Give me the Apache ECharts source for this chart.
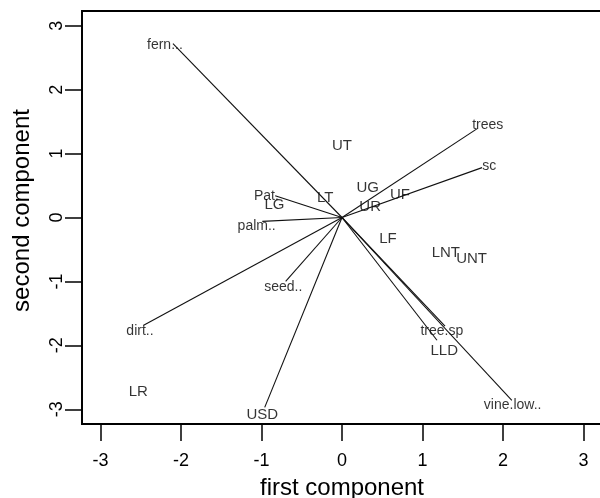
<!DOCTYPE html>
<html>
<head>
<meta charset="utf-8">
<script src="https://cdn.jsdelivr.net/npm/echarts@6/dist/echarts.min.js"></script>
<style>html,body{margin:0;padding:0;background:#fff}#c{width:600px;height:498px}</style>
</head>
<body>
<div id="c"></div>
<script>
// Axis ticks
var xTicks = [-3, -2, -1, 0, 1, 2, 3];
var yTicks = [-3, -2, -1, 0, 1, 2, 3];

// Variable arrows (tip coordinates) and their labels
var varNames  = ["fern...", "trees", "sc", "Pat.", "palm..", "seed..", "dirt..", "", "tree.sp", "", "vine.low.."];
var varTipX   = [-2.10, 1.68, 1.74, -0.83, -0.99, -0.70, -2.47, -0.96, 1.28, 1.18, 2.11];
var varTipY   = [ 2.72, 1.39, 0.78,  0.34, -0.06, -1.00, -1.69, -2.97, -1.70, -1.92, -2.86];
var varLabX   = [-2.20, 1.81, 1.83, -0.94, -1.06, -0.73, -2.51, 0, 1.24, 0, 2.12];
var varLabY   = [ 2.70, 1.45, 0.81,  0.33, -0.14, -1.09, -1.78, 0, -1.77, 0, -2.94];

// Sample labels
var sampleNames = ["UT", "UG", "LT", "UR", "UF", "LG", "LF", "LNT", "UNT", "LLD", "LR", "USD"];
var sampleX     = [0.00, 0.32, -0.21, 0.35, 0.72, -0.84, 0.57, 1.29, 1.61, 1.27, -2.53, -0.99];
var sampleY     = [1.12, 0.47,  0.31, 0.17, 0.36,  0.19, -0.34, -0.55, -0.64, -2.09, -2.73, -3.08];

var FONT = 'Liberation Sans, Arial, sans-serif';
var series = [];
for (var i = 0; i < varTipX.length; i++) {
  series.push({
    type: 'line',
    data: [[0, 0], [varTipX[i], varTipY[i]]],
    symbol: 'none',
    silent: true,
    lineStyle: { color: '#111', width: 1.1 },
    animation: false
  });
}
var varLabelData = [];
for (var j = 0; j < varNames.length; j++) {
  if (varNames[j]) varLabelData.push({ name: varNames[j], value: [varLabX[j], varLabY[j]] });
}
series.push({
  type: 'scatter',
  data: varLabelData,
  symbolSize: 2,
  itemStyle: { color: 'rgba(0,0,0,0)' },
  label: { show: true, position: 'inside', formatter: '{b}', color: '#000', fontSize: 14, fontFamily: FONT },
  labelLayout: { hideOverlap: false },
  animation: false
});
var sampleData = [];
for (var k = 0; k < sampleNames.length; k++) {
  sampleData.push({ name: sampleNames[k], value: [sampleX[k], sampleY[k]] });
}
series.push({
  type: 'scatter',
  data: sampleData,
  symbolSize: 2,
  itemStyle: { color: 'rgba(0,0,0,0)' },
  label: { show: true, position: 'inside', formatter: '{b}', color: '#000', fontSize: 15, fontFamily: FONT },
  labelLayout: { hideOverlap: false },
  animation: false
});

var chart = echarts.init(document.getElementById('c'), null, { renderer: 'canvas' });
chart.setOption({
  backgroundColor: '#fff',
  animation: false,
  grid: { left: 82, top: 11, width: 520, height: 413, containLabel: false, outerBoundsMode: 'none', show: true, borderColor: '#000', borderWidth: 1.8, backgroundColor: 'transparent' },
  xAxis: {
    type: 'value', min: -3.23, max: 3.23,
    name: 'first component', nameLocation: 'middle', nameGap: 52,
    nameTextStyle: { fontSize: 24, color: '#000', fontFamily: FONT },
    axisLine: { show: true, onZero: false, lineStyle: { color: '#000', width: 1.8 } },
    axisTick: { show: true, inside: false, length: 17, customValues: xTicks, lineStyle: { color: '#000', width: 1.5 } },
    axisLabel: { show: true, customValues: xTicks, fontSize: 18, color: '#000', margin: 28, fontFamily: FONT },
    splitLine: { show: false }
  },
  yAxis: {
    type: 'value', min: -3.23, max: 3.23,
    name: 'second component', nameLocation: 'middle', nameGap: 48,
    nameTextStyle: { fontSize: 24, color: '#000', fontFamily: FONT, padding: [0, 0, 0, 14] },
    axisLine: { show: true, onZero: false, lineStyle: { color: '#000', width: 1.8 } },
    axisTick: { show: true, inside: false, length: 17, customValues: yTicks, lineStyle: { color: '#000', width: 1.5 } },
    axisLabel: { show: true, customValues: yTicks, fontSize: 18, color: '#000', margin: 16, rotate: 90, fontFamily: FONT },
    splitLine: { show: false }
  },
  series: series
});
</script>
</body>
</html>
